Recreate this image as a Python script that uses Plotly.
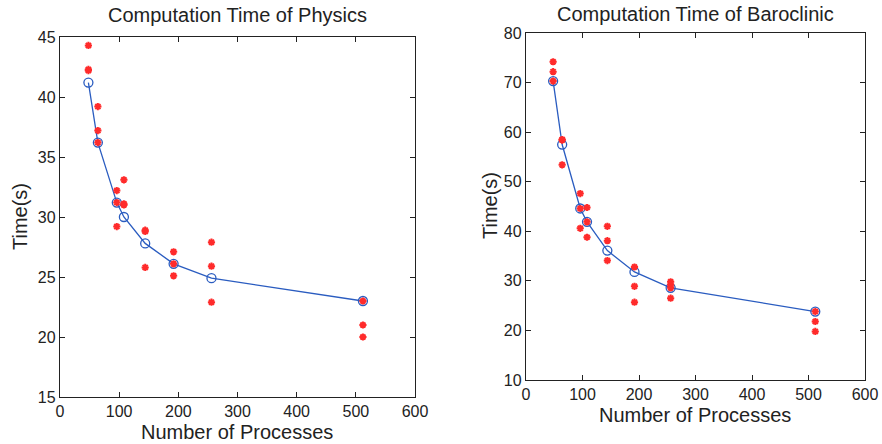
import plotly.graph_objects as go

procs = [48, 64, 96, 108, 144, 192, 256, 512]

physics_mean = [41.2, 36.2, 31.2, 30.0, 27.8, 26.1, 24.9, 23.0]
physics_runs = [
    [44.3, 42.3, 42.2],
    [39.2, 37.2, 36.2],
    [32.2, 31.2, 29.2],
    [33.1, 31.1, 31.0],
    [28.9, 28.8, 25.8],
    [27.1, 26.1, 25.1],
    [27.9, 25.9, 22.9],
    [23.0, 21.0, 20.0],
]

baro_mean = [70.3, 57.5, 44.6, 41.9, 36.1, 31.8, 28.6, 23.8]
baro_runs = [
    [74.2, 72.2, 70.3],
    [58.5, 58.4, 53.4],
    [47.6, 44.6, 40.6],
    [44.8, 41.9, 38.8],
    [41.0, 38.1, 34.1],
    [32.8, 28.9, 25.7],
    [29.8, 29.2, 28.6, 26.5],
    [23.8, 21.8, 19.8],
]

x_ticks = [0, 100, 200, 300, 400, 500, 600]
phys_y_ticks = [15, 20, 25, 30, 35, 40, 45]
baro_y_ticks = [10, 20, 30, 40, 50, 60, 70, 80]

titles = ["Computation Time of Physics", "Computation Time of Baroclinic"]
x_title = "Number of Processes"
y_title = "Time(s)"

BLUE = "#2a5cc0"
RED = "#ff2b2b"
FONT = "Liberation Sans, Arial, Helvetica, sans-serif"
INK = "#222222"

fig = go.Figure()


def flatten(runs):
    xs, ys = [], []
    for p, vals in zip(procs, runs):
        for v in vals:
            xs.append(p)
            ys.append(v)
    return xs, ys


for i, (mean, runs) in enumerate([(physics_mean, physics_runs), (baro_mean, baro_runs)]):
    xa = "x" if i == 0 else "x2"
    ya = "y" if i == 0 else "y2"
    fig.add_trace(go.Scatter(
        x=procs, y=mean, mode="lines+markers", xaxis=xa, yaxis=ya,
        line=dict(color=BLUE, width=1.3),
        marker=dict(symbol="circle-open", size=9, color=BLUE, line=dict(width=1.3)),
        showlegend=False, hoverinfo="x+y",
    ))
    rx, ry = flatten(runs)
    fig.add_trace(go.Scatter(
        x=rx, y=ry, mode="markers", xaxis=xa, yaxis=ya,
        marker=dict(symbol="asterisk-open", size=6, color=RED, line=dict(width=2, color=RED)),
        showlegend=False, hoverinfo="x+y",
    ))

axis_common = dict(
    automargin=False,
    showgrid=False, zeroline=False, showline=True, linecolor=INK, linewidth=1.3,
    mirror="allticks", ticks="inside", ticklen=5, tickwidth=1, tickcolor=INK,
    tickfont=dict(family=FONT, size=16, color=INK),
)

fig.update_layout(
    template="none",
    width=882, height=444,
    margin=dict(l=0, r=0, t=0, b=0, pad=0),
    paper_bgcolor="white", plot_bgcolor="white",
    font=dict(family=FONT, color=INK),
    xaxis=dict(domain=[60 / 882, 415 / 882], range=[0, 600], tickvals=x_ticks, anchor="y", **axis_common),
    yaxis=dict(domain=[(444 - 397) / 444, (444 - 37) / 444], range=[15, 45], tickvals=phys_y_ticks, anchor="x", **axis_common),
    xaxis2=dict(domain=[526 / 882, 865 / 882], range=[0, 600], tickvals=x_ticks, anchor="y2", **axis_common),
    yaxis2=dict(domain=[(444 - 380) / 444, (444 - 33) / 444], range=[10, 80], tickvals=baro_y_ticks, anchor="x2", **axis_common),
)

ann = []
# titles
ann.append(dict(text=titles[0], x=237 / 882, y=1 - 15 / 444, xref="paper", yref="paper",
                showarrow=False, font=dict(size=20, family=FONT, color=INK), xanchor="center", yanchor="middle"))
ann.append(dict(text=titles[1], x=695 / 882, y=1 - 14 / 444, xref="paper", yref="paper",
                showarrow=False, font=dict(size=20, family=FONT, color=INK), xanchor="center", yanchor="middle"))
# x titles
ann.append(dict(text=x_title, x=237 / 882, y=1 - 432 / 444, xref="paper", yref="paper",
                showarrow=False, font=dict(size=20, family=FONT, color=INK), xanchor="center", yanchor="middle"))
ann.append(dict(text=x_title, x=695 / 882, y=1 - 415 / 444, xref="paper", yref="paper",
                showarrow=False, font=dict(size=20, family=FONT, color=INK), xanchor="center", yanchor="middle"))
# y titles
ann.append(dict(text=y_title, x=20 / 882, y=1 - 217 / 444, xref="paper", yref="paper", textangle=-90,
                showarrow=False, font=dict(size=20, family=FONT, color=INK), xanchor="center", yanchor="middle"))
ann.append(dict(text=y_title, x=490 / 882, y=1 - 206 / 444, xref="paper", yref="paper", textangle=-90,
                showarrow=False, font=dict(size=20, family=FONT, color=INK), xanchor="center", yanchor="middle"))
fig.update_layout(annotations=ann)

fig.write_html(
    "out.html",
    config={"displayModeBar": False},
    post_script="document.body.style.margin='0';document.body.style.padding='0';",
)
